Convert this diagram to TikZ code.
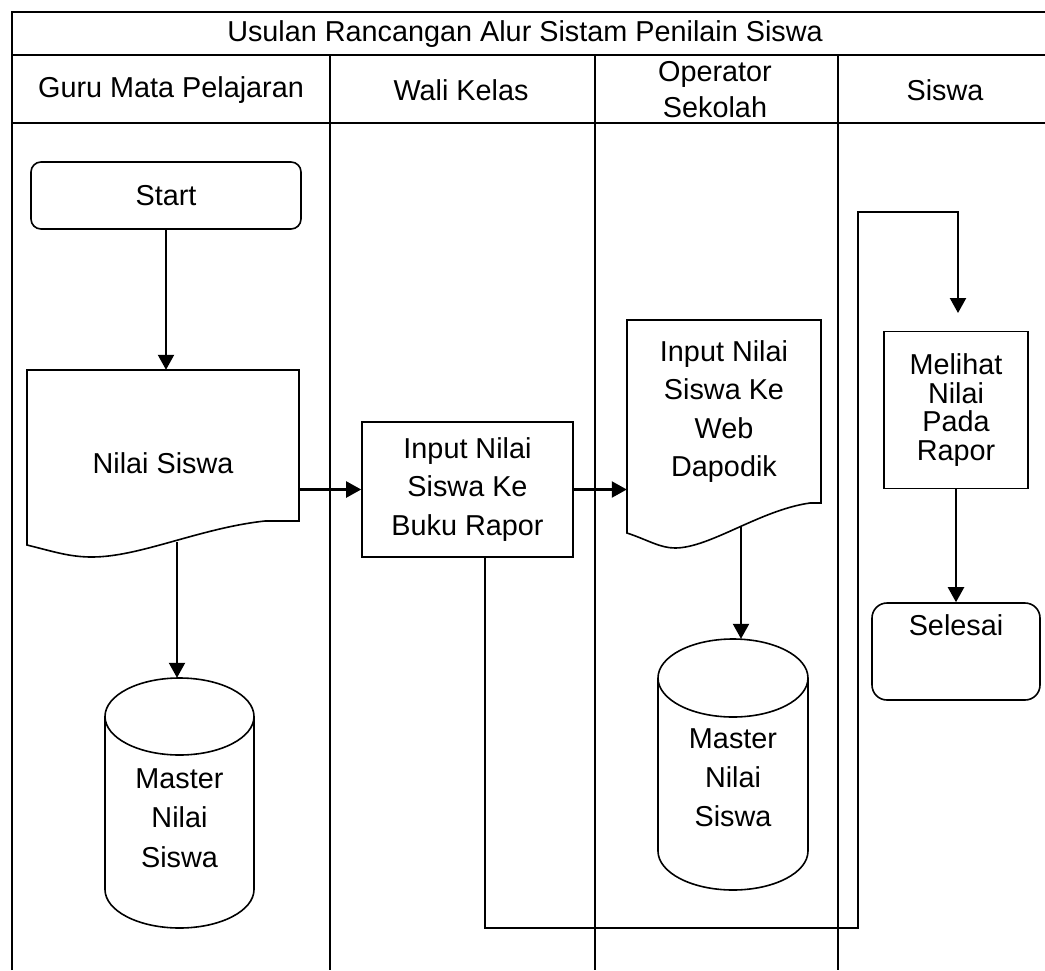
\documentclass[tikz,border=0pt]{standalone}
\usepackage{fontspec}
\setmainfont{Liberation Sans}
\usetikzlibrary{arrows.meta}

\begin{document}
\begin{tikzpicture}[x=1pt,y=-1pt,
  every node/.style={font=\fontsize{28.8}{38.5}\selectfont, align=center, inner sep=0pt},
  frameline/.style={line width=2.6pt},
  laneline/.style={line width=2.1pt},
  shapeline/.style={line width=1.6pt},
  conn/.style={line width=2.2pt},
  arr/.style={conn, -{Triangle[length=15pt,width=16pt]}},
  procbox/.style={draw, shapeline},
  termbox/.style={draw, shapeline, rounded corners=#1},
  region/.style={draw=none}
]
\useasboundingbox (0,0) rectangle (1045,970);
\clip (0,0) rectangle (1045,970);

% swimlane frame
\draw[frameline] (12,970) -- (12,12) -- (1060,12);
\draw[frameline] (12,55) -- (1060,55);
\draw[frameline] (12,123) -- (1060,123);
\foreach \x in {330,595,838} \draw[laneline] (\x,55) -- (\x,970);

% headings
\node (title)  at (525,34) {Usulan Rancangan Alur Sistam Penilain Siswa};
\node (hguru)  at (171,90) {Guru Mata Pelajaran};
\node (hwali)  at (461,90) {Wali Kelas};
\node[font=\fontsize{28.8}{36}\selectfont] (hop) at (715,90) {Operator\\Sekolah};
\node (hsiswa) at (945,90) {Siswa};

% Guru Mata Pelajaran lane
\node[termbox=10pt, minimum width=270pt, minimum height=67pt] (start) at (166,195.5) {Start};

\node[region, minimum width=272pt, minimum height=187pt] (nilai) at (163,463.5) {Nilai Siswa};
\draw[shapeline] (27,545) -- (27,370) -- (299,370) -- (299,521) -- (265,521)
  .. controls (200,528) and (140,557) .. (92,557)
  .. controls (70,557) and (55,552) .. (27,545) -- cycle;
\coordinate (nilaiwave) at (177,542);

\node[region, minimum width=149pt, minimum height=250pt] (db1) at (179.5,803) {};
\draw[shapeline] (105,716.5) -- (105,889.5)
  arc[start angle=180, end angle=360, x radius=74.5pt, y radius=38.5pt] -- (254,716.5);
\draw[shapeline] (179.5,716.5) ellipse[x radius=74.5pt, y radius=38.5pt];
\node[font=\fontsize{28.8}{39.5}\selectfont] (db1txt) at (179.5,818) {Master\\Nilai\\Siswa};

% Wali Kelas lane
\node[procbox, minimum width=211pt, minimum height=135pt] (input) at (467.5,489.5) {Input Nilai\\Siswa Ke\\Buku Rapor};

% Operator Sekolah lane
\node[region, minimum width=194pt, minimum height=183pt] (dapodik) at (724,411.5) {Input Nilai\\Siswa Ke\\Web\\Dapodik};
\draw[shapeline] (627,533) -- (627,320) -- (821,320) -- (821,503) -- (810,503)
  .. controls (760,510) and (710,548) .. (675,548)
  .. controls (660,548) and (648,540) .. (627,533) -- cycle;
\coordinate (dapwave) at (741,527);

\node[region, minimum width=150pt, minimum height=251pt] (db2) at (733,764.5) {};
\draw[shapeline] (658,678) -- (658,851)
  arc[start angle=180, end angle=360, x radius=75pt, y radius=39pt] -- (808,678);
\draw[shapeline] (733,678) ellipse[x radius=75pt, y radius=39pt];
\node[font=\fontsize{28.8}{39}\selectfont] (db2txt) at (733,778) {Master\\Nilai\\Siswa};

% Siswa lane
\node[procbox, minimum width=144pt, minimum height=157pt, font=\fontsize{28.8}{28.5}\selectfont] (melihat) at (956,410) {Melihat\\Nilai\\Pada\\Rapor};
\node[termbox=15pt, minimum width=168pt, minimum height=97pt] (selesai) at (956,651.5) {};
\node (selesaitxt) at (956,625) {Selesai};

% connectors
\draw[arr] (start.south) -- (start.south |- nilai.north);
\draw[arr] (nilai.east |- input.west) -- (input.west);
\draw[arr] (input.east) -- (input.east -| dapodik.west);
\draw[arr] (nilaiwave) -- (nilaiwave |- db1.north);
\draw[arr] (dapwave) -- (dapwave |- db2.north);

\coordinate (loopbot) at (858,928);
\coordinate (looptop) at (858,212);
\coordinate (loopin) at (958,313);
\draw[arr] ([xshift=17.5pt]input.south) |- (loopbot) -- (looptop) -| (loopin);
\draw[arr] (melihat.south) -- (selesai.north);
\end{tikzpicture}
\end{document}
